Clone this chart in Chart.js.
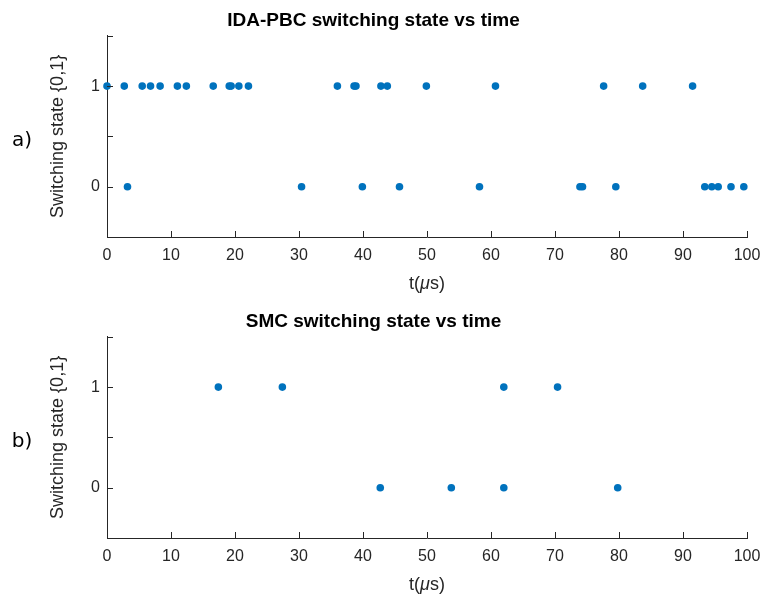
<!DOCTYPE html>
<html><head><meta charset="utf-8">
<script src="https://cdn.jsdelivr.net/npm/chart.js@4.4.1/dist/chart.umd.min.js"></script>
<style>
html,body{margin:0;padding:0;background:#fff;overflow:hidden;width:763px;height:594px}
.wrap{position:absolute;left:0;width:763px;height:300px}
canvas{display:block}
</style></head><body>
<div class="wrap" style="top:0"><canvas id="c1" width="763" height="300"></canvas></div>
<div class="wrap" style="top:301px"><canvas id="c2" width="763" height="300"></canvas></div>
<script>
// ---- data (time in microseconds) ----
const idaOnTimes  = [0, 2.7, 5.5, 6.8, 8.3, 11.0, 12.4, 16.6, 19.1, 19.4, 20.6, 22.1, 36.0, 38.6, 38.9, 42.8, 43.8, 49.9, 60.7, 77.6, 83.7, 91.5];
const idaOffTimes = [3.2, 30.4, 39.9, 45.7, 58.2, 73.9, 74.3, 79.5, 93.4, 94.5, 95.5, 97.5, 99.5];
const smcOnTimes  = [17.4, 27.4, 62.0, 70.4];
const smcOffTimes = [42.7, 53.8, 62.0, 79.8];
const xTickValues = [0, 10, 20, 30, 40, 50, 60, 70, 80, 90, 100];
const yTickLabels = {"0": "0", "1": "1"};
const titles = ["IDA-PBC switching state vs time", "SMC switching state vs time"];
const panelLabels = ["a)", "b)"];
const yTitle = "Switching state {0,1}";

const TXT = '#262626';
const FONT = '"Liberation Sans", Arial, sans-serif';

const decor = {
  id: 'decor',
  afterDraw(chart, args, opts) {
    const ctx = chart.ctx, xs = chart.scales.x, ys = chart.scales.y, a = chart.chartArea;
    ctx.save();
    ctx.strokeStyle = TXT; ctx.lineWidth = 1;
    ctx.beginPath();
    xs.ticks.forEach(t => {
      const p = Math.round(xs.getPixelForValue(t.value)) + 0.5;
      ctx.moveTo(p, a.bottom); ctx.lineTo(p, a.bottom - 6);
    });
    ys.ticks.forEach(t => {
      const p = Math.round(ys.getPixelForValue(t.value)) + 0.5;
      ctx.moveTo(a.left, p); ctx.lineTo(a.left + 6, p);
    });
    ctx.stroke();
    // x axis title with italic mu
    const parts = [['t(', 'normal'], ['\u03bc', 'italic'], ['s)', 'normal']];
    const size = 18;
    let w = 0;
    parts.forEach(p => { ctx.font = p[1] + ' ' + size + 'px ' + FONT; w += ctx.measureText(p[0]).width; });
    let x = (a.left + a.right) / 2 - w / 2;
    const y = a.bottom + 47;
    ctx.fillStyle = TXT; ctx.textBaseline = 'middle'; ctx.textAlign = 'left';
    parts.forEach(p => { ctx.font = p[1] + ' ' + size + 'px ' + FONT; ctx.fillText(p[0], x, y); x += ctx.measureText(p[0]).width; });
    // panel label
    ctx.font = '20px "DejaVu Sans", sans-serif';
    ctx.fillStyle = '#000'; ctx.textAlign = 'center';
    ctx.fillText(opts.panel, 22, (a.top + a.bottom) / 2 + 4);
    ctx.restore();
  }
};

function makeChart(id, onT, offT, title, panel) {
  const pts = onT.map(t => ({x: t, y: 1})).concat(offT.map(t => ({x: t, y: 0})));
  return new Chart(document.getElementById(id), {
    type: 'scatter',
    data: { datasets: [{ data: pts, backgroundColor: '#0072BD', borderColor: '#0072BD',
      pointRadius: 3.8, pointBorderWidth: 0, clip: false }] },
    options: {
      responsive: false, animation: false, devicePixelRatio: 1,
      layout: { padding: { left: 0, right: 16, top: 0, bottom: 0 } },
      plugins: {
        legend: { display: false }, tooltip: { enabled: false },
        title: { display: true, text: title, color: '#000',
          font: { family: FONT, weight: 'bold', size: 19 }, padding: { top: 9, bottom: 4 } },
        decor: { panel: panel }
      },
      scales: {
        x: {
          type: 'linear', min: 0, max: 100,
          afterBuildTicks(s) { s.ticks = xTickValues.map(v => ({value: v})); },
          afterFit(s) { s.height = 63; s.paddingLeft = 0; s.paddingRight = 0; },
          grid: { drawOnChartArea: false, drawTicks: false },
          border: { display: true, color: TXT, width: 1 },
          ticks: { color: TXT, font: { family: FONT, size: 16 }, padding: 9, maxRotation: 0, autoSkip: false,
            callback: v => String(v) }
        },
        y: {
          type: 'linear', min: -0.5, max: 1.5,
          ticks: { stepSize: 0.5, color: TXT, font: { family: FONT, size: 16 }, padding: 7,
            callback: v => (yTickLabels[String(v)] !== undefined ? yTickLabels[String(v)] : '') },
          afterFit(s) { s.width = 107; s.paddingTop = 0; s.paddingBottom = 0; },
          grid: { drawOnChartArea: false, drawTicks: false },
          border: { display: true, color: TXT, width: 1 },
          title: { display: true, text: yTitle, color: TXT, font: { family: FONT, size: 18 }, padding: { top: 47, bottom: 0 } }
        }
      }
    },
    plugins: [decor]
  });
}
makeChart('c1', idaOnTimes, idaOffTimes, titles[0], panelLabels[0]);
makeChart('c2', smcOnTimes, smcOffTimes, titles[1], panelLabels[1]);
</script>
</body></html>
